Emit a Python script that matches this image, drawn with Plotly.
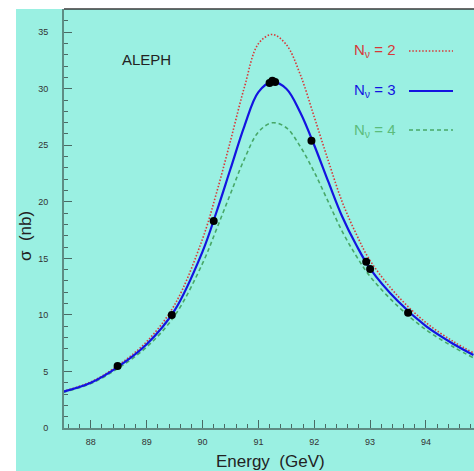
import plotly.graph_objects as go

# Curve energies (GeV) and cross sections (nb)
energy = [87.5, 88.0, 88.5, 89.0, 89.5, 90.0, 90.25, 90.5, 90.75, 91.0, 91.25,
          91.5, 91.75, 92.0, 92.25, 92.5, 92.75, 93.0, 93.5, 94.0, 94.5, 94.85]
sigma_n2 = [3.24, 4.07, 5.58, 7.64, 10.89, 16.72, 20.78, 25.39, 30.14, 33.98, 34.8,
            33.9, 31.25, 27.5, 23.65, 20.0, 17.17, 14.8, 11.65, 9.32, 7.62, 6.64]
sigma_n3 = [3.2, 4.0, 5.45, 7.4, 10.4, 15.6, 19.1, 22.9, 26.7, 29.7, 30.6,
            30.0, 27.9, 25.0, 21.8, 18.7, 16.2, 14.1, 11.2, 9.0, 7.4, 6.45]
sigma_n4 = [3.16, 3.93, 5.32, 7.16, 9.92, 14.55, 17.57, 20.71, 23.79, 26.17, 26.99,
            26.55, 24.89, 22.63, 20.01, 17.39, 15.23, 13.4, 10.75, 8.69, 7.14, 6.21]

# Measured points
data_e = [88.48, 89.45, 90.2, 91.2, 91.25, 91.3, 91.95, 92.93, 93.0, 93.68]
data_s = [5.48, 10.0, 18.3, 30.5, 30.7, 30.6, 25.4, 14.7, 14.05, 10.2]

x_ticks = [88, 89, 90, 91, 92, 93, 94]
y_ticks = [0, 5, 10, 15, 20, 25, 30, 35]

AQUA = "#9AF0E2"
RED = "#D83838"
BLUE = "#1414E0"
GREEN = "#48A868"
RED_DASH = "1.5px,1.8px"
GREEN_DASH = "4px,3px"

fig = go.Figure()
fig.add_trace(go.Scatter(x=energy, y=sigma_n2, mode="lines", line_shape="spline",
                         line=dict(color=RED, width=1.6, dash=RED_DASH), showlegend=False))
fig.add_trace(go.Scatter(x=energy, y=sigma_n4, mode="lines", line_shape="spline",
                         line=dict(color=GREEN, width=1.6, dash=GREEN_DASH), showlegend=False))
fig.add_trace(go.Scatter(x=energy, y=sigma_n3, mode="lines", line_shape="spline",
                         line=dict(color=BLUE, width=2.2), showlegend=False))
fig.add_trace(go.Scatter(x=data_e, y=data_s, mode="markers",
                         marker=dict(color="black", size=8), showlegend=False))

W, H = 474, 471
L, T, B = 64, 9, 43
pw, ph = W - L, H - T - B

def px(x):
    return (x - L) / pw

def py(y):
    return (H - B - y) / ph

shapes = [
    dict(type="rect", xref="paper", yref="paper", x0=px(16), x1=1.2, y0=py(H + 5), y1=1,
         fillcolor=AQUA, line=dict(width=0), layer="below"),
    dict(type="line", xref="paper", yref="paper", x0=0, x1=1.2, y0=1, y1=1,
         line=dict(color="#3a3a3a", width=1.5)),
]
legend_rows = [("N<sub>ν</sub> = 2", RED, RED_DASH, 50),
               ("N<sub>ν</sub> = 3", BLUE, "solid", 90),
               ("N<sub>ν</sub> = 4", "#5CBC7C", GREEN_DASH, 129)]

def ann(text, x, y, size, color, angle=0):
    return dict(text=text, xref="paper", yref="paper", x=px(x), y=py(y),
                xanchor="center", yanchor="middle", textangle=angle, showarrow=False,
                font=dict(size=size, color=color, family="Liberation Sans"))

annotations = [
    ann("ALEPH", 146, 59, 15, "#222222"),
    ann("Energy  (GeV)", 270, 461, 17, "#222222"),
    ann("σ  (nb)", 25, 236, 17, "#222222", -90),
]
for txt, col, dash, yy in legend_rows:
    annotations.append(ann(txt, 375, yy + 1, 15, col))
    shapes.append(dict(type="line", xref="paper", yref="paper", x0=px(409), x1=px(453),
                       y0=py(yy + 1), y1=py(yy + 1),
                       line=dict(color=col if dash != GREEN_DASH else GREEN,
                                 width=1.8 if dash == "solid" else 1.5, dash=dash)))

axis_common = dict(showgrid=False, zeroline=False, showline=True, linecolor="#5E8C84",
                   linewidth=2, ticks="inside", ticklen=8, tickwidth=1, tickcolor="#4A6A64",
                   tickfont=dict(size=9, color="#333333", family="Liberation Sans"))
fig.update_layout(
    width=W, height=H,
    margin=dict(l=L, r=0, t=T, b=B, pad=0),
    paper_bgcolor="white", plot_bgcolor=AQUA,
    shapes=shapes, annotations=annotations,
    xaxis=dict(range=[87.52, 94.86], tickvals=x_ticks, ticktext=[str(v) for v in x_ticks],
               minor=dict(ticks="inside", ticklen=4, dtick=0.2, tick0=88, tickcolor="#4A6A64"),
               ticklabelstandoff=4, **axis_common),
    yaxis=dict(range=[0, 37.05], tickvals=y_ticks, ticktext=[str(v) for v in y_ticks],
               minor=dict(ticks="inside", ticklen=4, dtick=1, tick0=0, tickcolor="#4A6A64"),
               ticklabelstandoff=12, **axis_common),
)
fig.write_html("out.html")
